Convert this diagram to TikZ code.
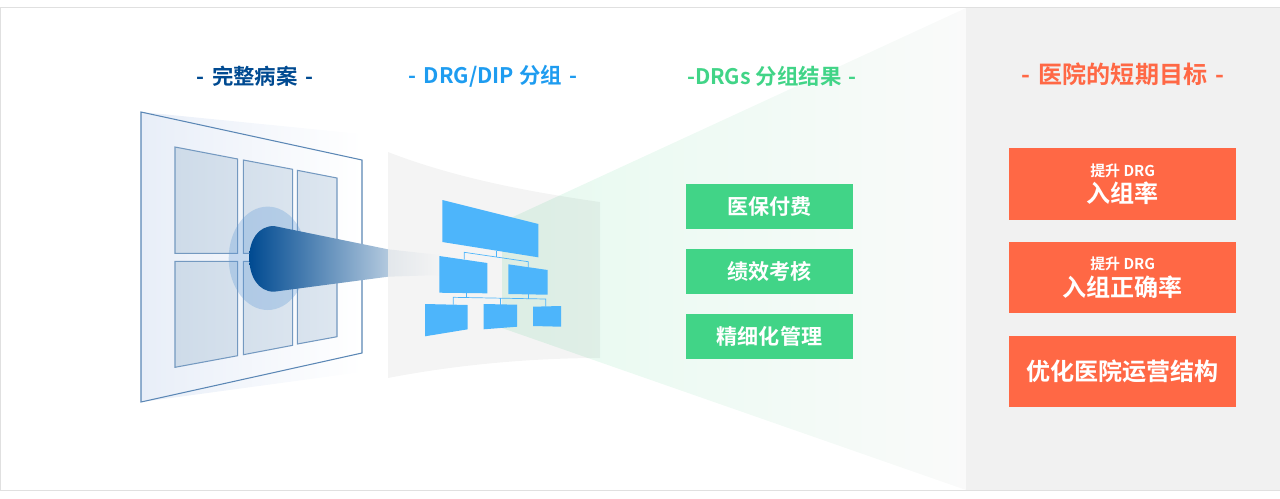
\documentclass[tikz,border=0pt]{standalone}
\usepackage{fontspec}
\setmainfont{Noto Sans CJK SC}[BoldFont={Noto Sans CJK SC Bold}]
\definecolor{navy}{HTML}{004A91}
\definecolor{sky}{HTML}{1E9CF0}
\definecolor{chart}{HTML}{4DB5FB}
\definecolor{mint}{HTML}{41D487}
\definecolor{coral}{HTML}{FF6845}
\definecolor{pane}{HTML}{F1F1F1}
\definecolor{edge}{HTML}{5B87B5}
\definecolor{sheet}{HTML}{E8EEF8}
\definecolor{halo}{HTML}{5D98D6}
\tikzset{
  heading/.style={font=\bfseries\fontsize{12.2}{14}\selectfont},
  resultbox/.style={fill=mint, text=white, minimum width=3.34cm, minimum height=0.9cm, font=\bfseries\fontsize{12}{14}\selectfont},
  goalbox/.style={fill=coral, text=white, align=center, minimum width=4.54cm, minimum height=1.43cm, font=\bfseries\fontsize{13.7}{15}\selectfont},
  window/.style={draw=edge!85!white, line width=0.6pt, left color=#1, right color=#1!85!white},
  orgbox/.style={fill=chart},
  orgline/.style={draw=chart, line width=0.4pt},
}
\begin{document}
\begin{tikzpicture}[x=0.02cm, y=-0.02cm]
  \useasboundingbox (0,0) rectangle (1280,498);
  % frame and right panel
  \draw[color=black!12, line width=0.4pt] (0.5,7.5) rectangle (1280,490);
  % funnel behind the columns
  \shade[left color=mint!13!white, middle color=mint!5!white, right color=black!2] (502,222) -- (966,8) -- (966,490) -- (502,328) -- cycle;
  \fill[pane] (966,8) rectangle (1280,490);
  % curved sheet
  \fill[black, opacity=0.045] (388,152) .. controls (455,178) and (530,192) .. (600,202) -- (600,358) .. controls (530,358) and (455,365) .. (388,378) -- cycle;
  % record sheet
  \shade[left color=sheet, right color=white] (141,112) -- (362,134) -- (362,372) -- (141,402) -- cycle;
  \draw[color=edge, line width=0.6pt] (141,112) -- (362,160) -- (362,353) -- (141,402) -- cycle;
  \shade[window={edge!30!white}] (175,147) -- (237.7,159) -- (237.7,253.3) -- (175,253.3) -- cycle;
  \shade[window={edge!26!white}] (243.3,160) -- (292.7,169.3) -- (292.7,253.3) -- (243.3,253.3) -- cycle;
  \shade[window={edge!24!white}] (297.3,170.3) -- (337,178) -- (337,253.3) -- (297.3,253.3) -- cycle;
  \shade[window={edge!30!white}] (175,261.3) -- (237.7,261.3) -- (237.7,355.7) -- (175,367.3) -- cycle;
  \shade[window={edge!26!white}] (243.3,261.3) -- (292.7,261.3) -- (292.7,345.3) -- (243.3,354.7) -- cycle;
  \shade[window={edge!24!white}] (297.3,261.3) -- (337,261.3) -- (337,336.7) -- (297.3,344) -- cycle;
  \fill[color=halo, opacity=0.3] (267.7,258.3) ellipse (39 and 51.7);
  % beam
  \shade[left color=navy, right color=navy!30!white] (388,249.3) -- (274,226) .. controls (258,226) and (249.3,240) .. (249.3,258) .. controls (249.3,276) and (258,291.7) .. (274,291.7) -- (388,276.7) -- cycle;
  \shade[left color=navy!6!pane, right color=black!4.5] (388,249.3) -- (440,255) -- (440,275) -- (388,276.7) -- cycle;
  % org chart
  \coordinate (rootfoot) at (496.3,251);
  \coordinate (rootbar) at (496.3,256.7);
  \coordinate (leftdrop) at (464.3,259.3);
  \coordinate (leftcorner) at (464.3,252.3);
  \coordinate (rightcorner) at (528.3,261.7);
  \coordinate (rightdrop) at (528.3,267);
  \coordinate (barstart) at (453.3,297.3);
  \coordinate (barend) at (545.7,299);
  \coordinate (barmid) at (500.7,298.2);
  \coordinate (footleft) at (466.7,293);
  \coordinate (barleft) at (466.7,297.5);
  \coordinate (footright) at (528.3,294);
  \coordinate (barright) at (528.3,298.7);
  \coordinate (leafa) at (453.3,304.7);
  \coordinate (leafb) at (500.7,304.7);
  \coordinate (leafc) at (545.7,306.7);
  \draw[orgline] (rootfoot) -- (rootbar);
  \draw[orgline] (leftdrop) -- (leftcorner) -- (rightcorner) -- (rightdrop);
  \draw[orgline] (footleft) -- (barleft);
  \draw[orgline] (footright) -- (barright);
  \draw[orgline] (leafa) -- (barstart) -- (barend) -- (leafc);
  \draw[orgline] (barmid) -- (leafb);
  \fill[orgbox] (442.3,200) -- (538.3,224) -- (538.3,257.3) -- (442.3,242) -- cycle;
  \fill[orgbox] (439.3,256) -- (487.3,263) -- (487.3,293.3) -- (439.3,292.7) -- cycle;
  \fill[orgbox] (508.3,264.3) -- (547.7,270) -- (547.7,294.7) -- (508.3,294) -- cycle;
  \fill[orgbox] (425,304) -- (467.7,305) -- (467.7,329.3) -- (425,336.3) -- cycle;
  \fill[orgbox] (483.7,304) -- (517,304.7) -- (517,326.7) -- (483.7,329.3) -- cycle;
  \fill[orgbox] (533,306.7) -- (561,306) -- (561,326.7) -- (533,326) -- cycle;
  % headings
  \node[heading, text=navy] (record) at (255,76.5) {-\hspace{1.5pt} 完整病案 \hspace{1.5pt}-};
  \node[heading, text=sky] (group) at (493,76.5) {-\hspace{1.5pt} DRG/DIP 分组 \hspace{1.5pt}-};
  \node[heading, text=mint] (result) at (772,76.5) {-DRGs 分组结果 \hspace{1.5pt}-};
  \node[heading, text=coral, font=\bfseries\fontsize{13.7}{15}\selectfont] (goal) at (1123,74.5) {-\hspace{1.5pt} 医院的短期目标 \hspace{1.5pt}-};
  % result column
  \node[resultbox] (pay) at (769.5,206.5) {医保付费};
  \node[resultbox] (perf) at (769.5,271.5) {绩效考核};
  \node[resultbox] (fine) at (769.5,336.5) {精细化管理};
  % goal column
  \node[goalbox] (rate) at (1122.7,184) {{\fontsize{8.5}{10}\selectfont 提升 DRG}\\入组率};
  \node[goalbox] (correct) at (1122.7,277.7) {{\fontsize{8.5}{10}\selectfont 提升 DRG}\\入组正确率};
  \node[goalbox] (ops) at (1122.7,371.5) {优化医院运营结构};
\end{tikzpicture}
\end{document}
